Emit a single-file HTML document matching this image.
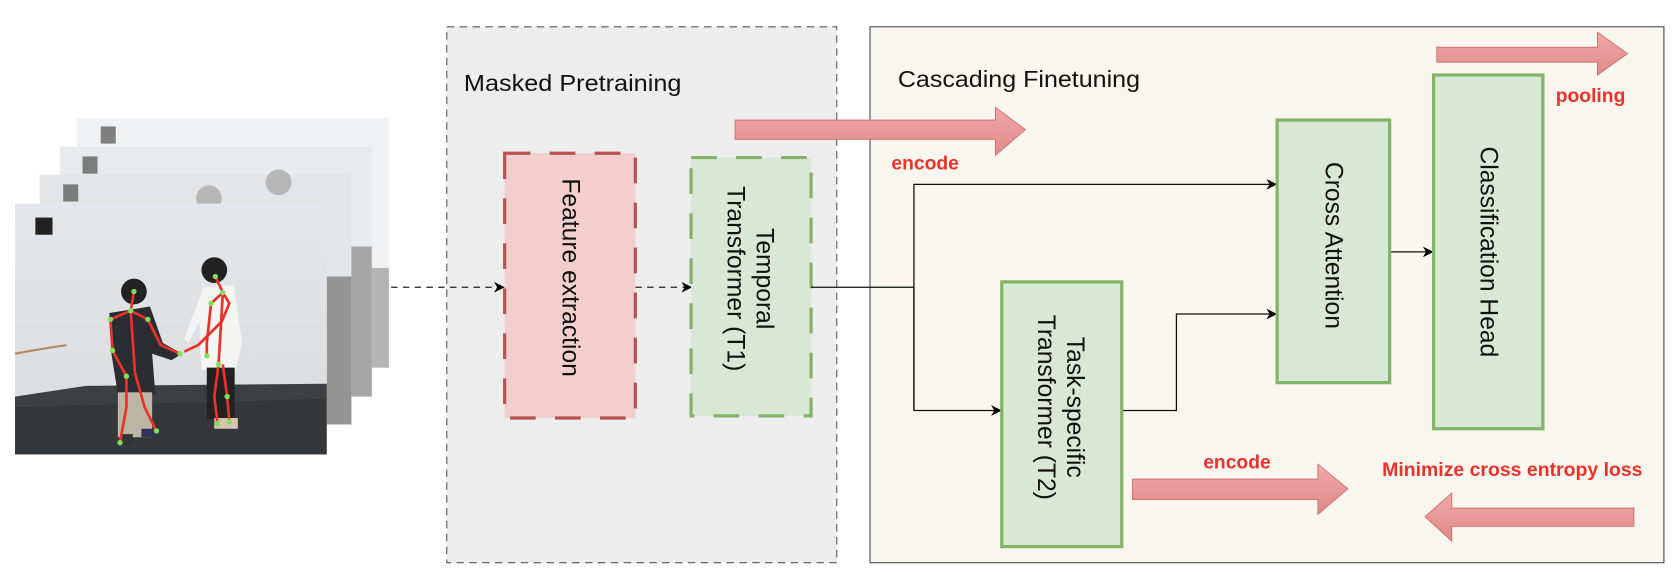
<!DOCTYPE html>
<html><head><meta charset="utf-8"><style>
html,body{margin:0;padding:0;background:#fff;}
svg{display:block;}
text{font-family:"Liberation Sans",sans-serif;}
</style></head><body>
<svg width="1680" height="582" viewBox="0 0 1568 543" preserveAspectRatio="none" xmlns="http://www.w3.org/2000/svg">
<defs>
<marker id="ah" markerWidth="10" markerHeight="10" refX="9" refY="5" orient="auto" markerUnits="userSpaceOnUse"><path d="M0,0 L10,5 L0,10 L3,5 Z" fill="#000"/></marker>
<linearGradient id="wall" x1="0" y1="0" x2="0" y2="1"><stop offset="0" stop-color="#e4e6ea"/><stop offset="1" stop-color="#d9dbde"/></linearGradient>
<linearGradient id="arr" x1="0" y1="0" x2="0" y2="1"><stop offset="0" stop-color="#f0a9a7"/><stop offset="1" stop-color="#e08a88"/></linearGradient>
</defs>

<!-- photo stack -->
<rect x="72" y="110" width="291" height="233" fill="#f0f1f2"/>
<rect x="305" y="250" width="58" height="93" fill="#b4b4b4"/>
<rect x="56" y="137" width="291" height="233" fill="#e9eaeb"/>
<rect x="305" y="230" width="42" height="140" fill="#a6a6a6"/>
<rect x="37" y="163" width="291" height="233" fill="#e4e5e6"/>
<rect x="305" y="258" width="23" height="138" fill="#949494"/>
<circle cx="260" cy="170" r="12" fill="#888" opacity="0.5"/>
<circle cx="195" cy="185" r="12" fill="#888" opacity="0.5"/>
<rect x="94" y="118" width="14" height="16" fill="#333" opacity="0.6"/>
<rect x="77" y="146" width="14" height="16" fill="#333" opacity="0.6"/>
<rect x="59" y="172" width="14" height="16" fill="#333" opacity="0.6"/>
<!-- front photo -->
<rect x="14" y="190" width="291" height="234" fill="url(#wall)"/>
<rect x="14" y="370" width="291" height="54" fill="#34383a"/>
<path d="M14,370 L80,360 L305,358 L305,372 L14,380 Z" fill="#3c4042"/>
<rect x="33" y="203" width="16" height="16" fill="#222"/>
<path d="M14,330 Q40,325 62,322" stroke="#b08a6a" stroke-width="2" fill="none"/>
<!-- person 1 -->
<circle cx="125" cy="272" r="12" fill="#222"/>
<path d="M102,292 L140,286 L152,320 L170,330 L160,336 L142,330 L145,368 L110,368 L104,330 Z" fill="#2b2d33"/>
<rect x="110" y="366" width="32" height="42" fill="#bdb6a6"/>
<rect x="112" y="405" width="12" height="10" fill="#333"/>
<rect x="132" y="400" width="14" height="8" fill="#335"/>
<!-- person 2 -->
<circle cx="200" cy="252" r="12" fill="#222"/>
<path d="M190,268 L218,266 L226,320 L220,345 L188,345 L186,300 L176,320 L172,316 Z" fill="#f4f4f2"/>
<rect x="193" y="343" width="26" height="48" fill="#222"/>
<rect x="200" y="390" width="22" height="10" fill="#d9c4b0"/>
<g stroke="#e8322a" stroke-width="2.5" fill="none">
<path d="M125,272 L122,290 L103,298 L105,327 L118,351 L118,380 L112,413"/>
<path d="M122,290 L138,298 L150,322 L168,330"/>
<path d="M122,290 L126,348 L135,380 L146,402"/>
<path d="M201,258 L208,273 L197,283 L193,320 L193,332"/>
<path d="M208,273 L214,283 L207,300 L185,322 L172,328"/>
<path d="M208,273 L204,340 L200,370 L203,395"/>
<path d="M208,340 L212,370 L214,393"/>
</g>
<g fill="#7fe05a">
<circle cx="125" cy="272" r="2.5"/><circle cx="122" cy="290" r="2.5"/><circle cx="103" cy="298" r="2.5"/><circle cx="138" cy="298" r="2.5"/><circle cx="105" cy="327" r="2.5"/><circle cx="118" cy="351" r="2.5"/><circle cx="112" cy="413" r="2.5"/><circle cx="146" cy="402" r="2.5"/><circle cx="168" cy="330" r="2.5"/><circle cx="208" cy="273" r="2.5"/><circle cx="201" cy="258" r="2.5"/><circle cx="197" cy="283" r="2.5"/><circle cx="193" cy="332" r="2.5"/><circle cx="204" cy="340" r="2.5"/><circle cx="212" cy="370" r="2.5"/><circle cx="203" cy="395" r="2.5"/><circle cx="214" cy="393" r="2.5"/>
</g>

<!-- Masked pretraining box -->
<rect x="417" y="25" width="364" height="500" fill="#ededed" stroke="#555" stroke-width="1" stroke-dasharray="7,5"/>
<text x="433" y="85" font-size="22" fill="#111" textLength="203" lengthAdjust="spacingAndGlyphs">Masked Pretraining</text>

<!-- Cascading box -->
<rect x="812" y="25" width="741" height="500" fill="#f8f6ef" stroke="#444" stroke-width="1"/>
<text x="838" y="81" font-size="22" fill="#111" textLength="226" lengthAdjust="spacingAndGlyphs">Cascading Finetuning</text>

<!-- dashed connectors -->
<line x1="365" y1="268" x2="470" y2="268" stroke="#222" stroke-width="1.2" stroke-dasharray="6,5" marker-end="url(#ah)"/>
<line x1="593" y1="268" x2="645" y2="268" stroke="#222" stroke-width="1.2" stroke-dasharray="6,5" marker-end="url(#ah)"/>

<!-- Feature extraction -->
<rect x="471" y="143" width="122" height="247" fill="#f2cfcd" stroke="#b85450" stroke-width="3" stroke-dasharray="24,18"/>
<text transform="translate(532,259) rotate(90)" text-anchor="middle" dominant-baseline="central" font-size="23" fill="#111">Feature extraction</text>

<!-- Temporal T1 -->
<rect x="645" y="147" width="112" height="241" fill="#d9e8d4" stroke="#82b366" stroke-width="3" stroke-dasharray="24,18"/>
<text transform="translate(701,260) rotate(90)" text-anchor="middle" font-size="23" fill="#111"><tspan x="0" dy="-5">Temporal</tspan><tspan x="0" dy="27">Transformer (T1)</tspan></text>

<!-- connectors solid -->
<polyline points="757,268 853,268" fill="none" stroke="#111" stroke-width="1.2"/>
<polyline points="853,383 853,172 1191,172" fill="none" stroke="#111" stroke-width="1.2" marker-end="url(#ah)"/>
<polyline points="853,268 853,383 934,383" fill="none" stroke="#111" stroke-width="1.2" marker-end="url(#ah)"/>
<polyline points="1047,383 1098,383 1098,293 1191,293" fill="none" stroke="#111" stroke-width="1.2" marker-end="url(#ah)"/>
<line x1="1297" y1="235" x2="1337" y2="235" stroke="#111" stroke-width="1.2" marker-end="url(#ah)"/>

<!-- T2 -->
<rect x="935" y="263" width="112" height="247" fill="#d9e8d4" stroke="#82b366" stroke-width="3"/>
<text transform="translate(991,380) rotate(90)" text-anchor="middle" font-size="23" fill="#111"><tspan x="0" dy="-5">Task-specific</tspan><tspan x="0" dy="27">Transformer (T2)</tspan></text>

<!-- Cross attention -->
<rect x="1192" y="112" width="105" height="245" fill="#d9e8d4" stroke="#82b366" stroke-width="3"/>
<text transform="translate(1244,229) rotate(90)" text-anchor="middle" dominant-baseline="central" font-size="23" fill="#111">Cross Attention</text>

<!-- Classification head -->
<rect x="1338" y="70" width="102" height="330" fill="#d9e8d4" stroke="#82b366" stroke-width="3"/>
<text transform="translate(1389,235) rotate(90)" text-anchor="middle" dominant-baseline="central" font-size="23" fill="#111">Classification Head</text>

<!-- big arrows -->
<path d="M686,112 L929,112 L929,100 L957,121 L929,145 L929,130 L686,130 Z" fill="url(#arr)" stroke="#c96a68" stroke-width="0.8"/>
<text x="832" y="158" font-size="18" font-weight="bold" fill="#e8332b" textLength="63" lengthAdjust="spacingAndGlyphs">encode</text>

<path d="M1341,44 L1491,44 L1491,30 L1519,50 L1491,70 L1491,58 L1341,58 Z" fill="url(#arr)" stroke="#c96a68" stroke-width="0.8"/>
<text x="1452" y="95" font-size="18" font-weight="bold" fill="#e8332b" textLength="65" lengthAdjust="spacingAndGlyphs">pooling</text>

<path d="M1057,447 L1230,447 L1230,433 L1258,456 L1230,480 L1230,466 L1057,466 Z" fill="url(#arr)" stroke="#c96a68" stroke-width="0.8"/>
<text x="1123" y="437" font-size="18" font-weight="bold" fill="#e8332b" textLength="63" lengthAdjust="spacingAndGlyphs">encode</text>

<text x="1290" y="444" font-size="18" font-weight="bold" fill="#e8332b" textLength="243" lengthAdjust="spacingAndGlyphs">Minimize cross entropy loss</text>
<path d="M1525,474 L1355,474 L1355,460 L1330,482 L1355,505 L1355,491 L1525,491 Z" fill="url(#arr)" stroke="#c96a68" stroke-width="0.8"/>
</svg>
</body></html>
